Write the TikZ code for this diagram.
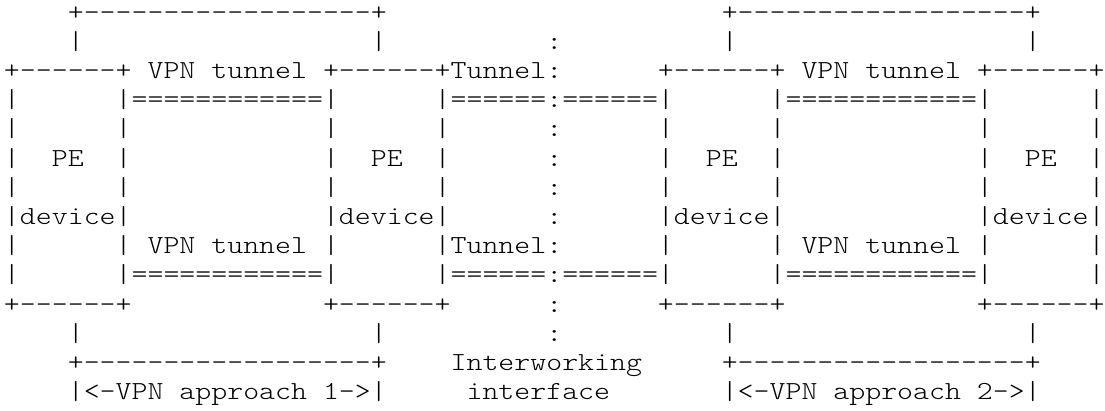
\documentclass[tikz,border=0pt]{standalone}
\usepackage{fontspec}
\IfFontExistsTF{lmmonolt10-regular.otf}
 {\newfontfamily\asciifont{lmmonolt10-regular.otf}[FakeStretch=1.1685]}
 {\newfontfamily\asciifont{lmmono10-regular.otf}[FakeStretch=1.1685]}
\tikzset{asc/.style={font=\asciifont\fontsize{26}{29}\selectfont,
  anchor=base west, inner sep=0pt, outer sep=0pt, text=black}}
\newcommand\seg[3]{\node[asc] (r#1c#2) at ({4+15.95*#2},{-20-29.2*#1}) {#3};}
\begin{document}
\begin{tikzpicture}[x=1pt,y=1pt]
\path[use as bounding box, fill=white] (0,0) rectangle (1105,-410);
% row 0
\seg{0}{4}{+------------------+}
\seg{0}{45}{+------------------+}
% row 1
\foreach \c in {4,23,45,64} {\seg{1}{\c}{|}}
\seg{1}{34}{:}
% row 2
\seg{2}{0}{+------+}
\seg{2}{9}{VPN}
\seg{2}{13}{tunnel}
\seg{2}{20}{+------+Tunnel:}
\seg{2}{41}{+------+}
\seg{2}{50}{VPN}
\seg{2}{54}{tunnel}
\seg{2}{61}{+------+}
% rows 3 and 9
\foreach \r in {3,9} {
  \seg{\r}{0}{|}
  \seg{\r}{7}{|============|}
  \seg{\r}{27}{|======:======|}
  \seg{\r}{48}{|============|}
  \seg{\r}{68}{|}
}
% rows 4, 5, 6
\foreach \r in {4,5,6} {
  \foreach \c in {0,7,20,27,41,48,61,68} {\seg{\r}{\c}{|}}
  \seg{\r}{34}{:}
}
\foreach \c in {3,23,44,64} {\seg{5}{\c}{PE}}
% row 7
\foreach \c in {0,20,41,61} {\seg{7}{\c}{|device|}}
\seg{7}{34}{:}
% row 8
\foreach \c in {0,7,20,41,48,61,68} {\seg{8}{\c}{|}}
\seg{8}{9}{VPN}
\seg{8}{13}{tunnel}
\seg{8}{27}{|Tunnel:}
\seg{8}{50}{VPN}
\seg{8}{54}{tunnel}
% row 10
\foreach \c in {0,20,41,61} {\seg{10}{\c}{+------+}}
\seg{10}{34}{:}
% row 11
\foreach \c in {4,23,45,64} {\seg{11}{\c}{|}}
\seg{11}{34}{:}
% row 12
\seg{12}{4}{+------------------+}
\seg{12}{28}{Interworking}
\seg{12}{45}{+------------------+}
% row 13
\seg{13}{4}{|<-VPN}
\seg{13}{11}{approach}
\seg{13}{20}{1->|}
\seg{13}{29}{interface}
\seg{13}{45}{|<-VPN}
\seg{13}{52}{approach}
\seg{13}{61}{2->|}
\end{tikzpicture}
\end{document}
